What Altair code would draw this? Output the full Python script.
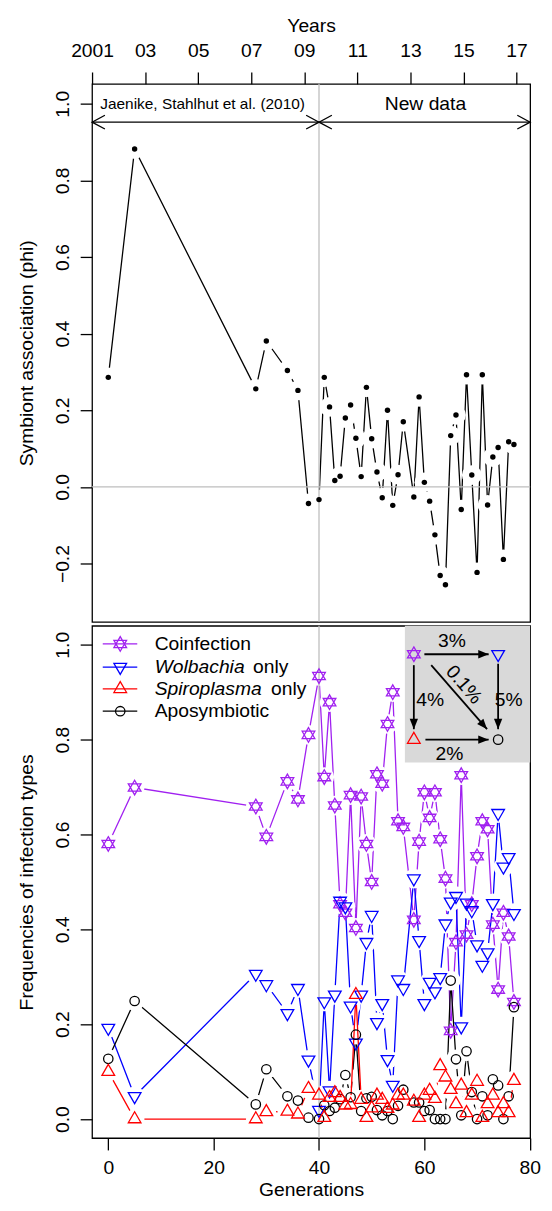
import altair as alt
import pandas as pd

# ---------------- data ----------------
gens = [0, 5, 28, 30, 34, 36, 38,
        40, 41, 42, 43, 44, 45, 46, 47, 48, 49, 50, 51, 52, 53, 54, 55, 56,
        58, 59, 60, 61, 62, 63, 64, 65, 66, 67, 68, 69, 70, 71, 72, 73, 74, 75, 76, 77]

phi = [0.286, 0.882, 0.256, 0.381, 0.304, 0.252, -0.043,
       -0.033, 0.286, 0.209, 0.017, 0.028, 0.180, 0.214, 0.127, 0.027, 0.260, 0.126, 0.039,
       -0.028, 0.200, -0.048, 0.032, 0.170,
       -0.026, 0.235, 0.012, -0.037, -0.125, -0.231, -0.255, 0.134, 0.188, -0.059, 0.293,
       0.031, -0.223, 0.293, -0.047, 0.078, 0.103, -0.189, 0.118, 0.111]

coinfection = [0.580, 0.699, 0.659, 0.595, 0.712, 0.674, 0.810,
               0.934, 0.721, 0.879, 0.661, 0.453, 0.435, 0.683, 0.403, 0.680, 0.580, 0.500, 0.727,
               0.707, 0.833, 0.900, 0.628, 0.616,
               0.420, 0.585, 0.689, 0.635, 0.689, 0.590, 0.507, 0.186, 0.373, 0.725, 0.389,
               0.453, 0.554, 0.628, 0.611, 0.410, 0.273, 0.435, 0.385, 0.247]

wolbachia = [0.192, 0.048, 0.306, 0.284, 0.223, 0.276, 0.125,
             0.019, 0.248, 0.060, 0.262, 0.460, 0.448, 0.239, 0.161, 0.262, 0.373, 0.430, 0.204,
             0.244, 0.126, 0.072, 0.294, 0.276,
             0.507, 0.377, 0.244, 0.289, 0.269, 0.299, 0.412, 0.458, 0.470, 0.195, 0.456,
             0.440, 0.368, 0.325, 0.351, 0.455, 0.645, 0.532, 0.552, 0.434]

spiroplasma = [0.100, 0.000, 0.000, 0.015, 0.016, 0.010, 0.064,
               0.050, 0.003, 0.045, 0.055, 0.045, 0.029, 0.030, 0.262, 0.041, 0.003, 0.023, 0.050,
               0.041, 0.022, 0.029, 0.050, 0.050,
               0.037, 0.003, 0.050, 0.060, 0.043, 0.112, 0.088, 0.062, 0.032, 0.071, 0.013,
               0.050, 0.079, 0.003, 0.032, 0.050, 0.013, 0.032, 0.013, 0.081]

aposymbiotic = [0.127, 0.249, 0.031, 0.105, 0.048, 0.039, 0.003,
                0.000, 0.029, 0.017, 0.024, 0.042, 0.093, 0.046, 0.178, 0.017, 0.044, 0.047, 0.019,
                0.008, 0.017, 0.000, 0.028, 0.062,
                0.035, 0.035, 0.017, 0.019, 0.000, 0.000, 0.000, 0.292, 0.126, 0.008, 0.143,
                0.057, 0.000, 0.048, 0.008, 0.084, 0.071, 0.000, 0.048, 0.236]

years = list(range(2001, 2018))
year_labels = ["2001", "", "03", "", "05", "", "07", "", "09", "", "11", "", "13", "", "15", "", "17"]

top_y_ticks = [-0.2, 0.0, 0.2, 0.4, 0.6, 0.8, 1.0]
bot_y_ticks = [0.0, 0.2, 0.4, 0.6, 0.8, 1.0]
gen_ticks = [0, 20, 40, 60, 80]

legend_names = ["Coinfection", "Wolbachia", "Spiroplasma", "Aposymbiotic"]
legend_only = ["", " only", " only", ""]

inset_gen = [58, 74, 58, 74]
inset_val = [0.98, 0.98, 0.80, 0.80]
inset_texts = ["3%", "4%", "0.1%", "5%", "2%"]

# ---------------- styling ----------------
FONT = "Liberation Sans"
FS = 19.5
X_DOM = [-3.08, 80.08]
YEAR_STEP = 5.036
W, H_TOP, H_BOT = 443, 544, 518
LW = 1.3

PURPLE, BLUE, RED, BLACK = "#A020F0", "#0000FF", "#FF0000", "#000000"
GRAY = "#BEBEBE"
INSET_BG = "#D9D9D9"

TRI_UP = "M0,-1L0.866,0.5L-0.866,0.5Z"
TRI_DN = "M0,1L0.866,-0.5L-0.866,-0.5Z"
STAR = TRI_UP + TRI_DN
VHEAD = "M-2,-1.07L0,0L-2,1.07"          # open V arrow head, tip at origin, pointing right
FHEAD = "M0,0L-2,-0.8L-2,0.8Z"           # filled arrow head, pointing right

xs = alt.Scale(domain=X_DOM, nice=False, zero=False)
ys_top = alt.Scale(domain=[-0.352, 1.052], nice=False, zero=False)
ys_bot = alt.Scale(domain=[-0.04, 1.04], nice=False, zero=False)

# ---------------- top panel ----------------
year_pos = [X_DOM[0] + (y - years[0]) * YEAR_STEP for y in years]
js_labels = "[" + ",".join("'%s'" % s for s in year_labels) + "]"

top_x_axis = alt.Axis(
    orient="top", values=year_pos,
    labelExpr=f"{js_labels}[round((datum.value - ({X_DOM[0]})) / {YEAR_STEP})]",
    title="Years", tickSize=12, labelPadding=16, labelBaseline="alphabetic",
    labelOverlap=False, labelFlush=False, domain=False, grid=False,
    titleX=W / 2, titleY=-53, titleBaseline="alphabetic", titleAlign="center")

top_y_axis = alt.Axis(
    values=top_y_ticks, format=".1f", title="Symbiont association (phi)",
    tickSize=12, labelAngle=270, labelAlign="center", labelBaseline="alphabetic",
    labelPadding=11.4, domain=False, grid=False,
    titleX=-60, titleY=H_TOP / 2, titleAngle=270, titleAlign="center",
    titleBaseline="alphabetic")

top_df = pd.DataFrame({"gen": gens, "val": phi})
tb = alt.Chart(top_df)

t_line = tb.mark_line(color=BLACK, strokeWidth=LW).encode(
    x=alt.X("gen:Q", scale=xs, axis=top_x_axis),
    y=alt.Y("val:Q", scale=ys_top, axis=top_y_axis))
t_halo = tb.mark_circle(color="white", size=400, opacity=1).encode(x="gen:Q", y="val:Q")
t_h0 = alt.Chart(pd.DataFrame({"val": [0.0]})).mark_rule(color=GRAY, strokeWidth=LW).encode(y="val:Q")
t_v40 = alt.Chart(pd.DataFrame({"gen": [40]})).mark_rule(color=GRAY, strokeWidth=LW).encode(x="gen:Q")
t_dots = tb.mark_circle(color=BLACK, size=30, opacity=1).encode(x="gen:Q", y="val:Q")

arr_df = pd.DataFrame({"gen": [X_DOM[0], 40], "gen2": [40, X_DOM[1]], "val": [0.952, 0.952]})
t_arr = alt.Chart(arr_df).mark_rule(color=BLACK, strokeWidth=LW).encode(
    x="gen:Q", x2="gen2:Q", y="val:Q")
head_df = pd.DataFrame({"gen": [X_DOM[0], 40, 40, X_DOM[1]],
                        "val": [0.952] * 4, "ang": [180, 0, 180, 0]})
t_heads = alt.Chart(head_df).mark_point(
    shape=VHEAD, filled=False, color=BLACK, strokeWidth=LW, size=169, opacity=1).encode(
    x="gen:Q", y="val:Q", angle=alt.Angle("ang:Q", scale=None))
ann_df = pd.DataFrame({"gen": [17.9], "val": [1.0], "txt": ["Jaenike, Stahlhut et al. (2010)"]})
t_ann1 = alt.Chart(ann_df).mark_text(font=FONT, fontSize=15.6, baseline="middle", align="center",
                                     color=BLACK).encode(x="gen:Q", y="val:Q", text="txt:N")
ann2_df = pd.DataFrame({"gen": [60.2], "val": [1.0], "txt": ["New data"]})
t_ann2 = alt.Chart(ann2_df).mark_text(font=FONT, fontSize=FS, baseline="middle", align="center",
                                      color=BLACK).encode(x="gen:Q", y="val:Q", text="txt:N")

top = alt.layer(t_line, t_halo, t_h0, t_v40, t_dots, t_arr, t_heads, t_ann1, t_ann2).properties(
    width=W, height=H_TOP)

# ---------------- bottom panel ----------------
bot_x_axis = alt.Axis(
    values=gen_ticks, title="Generations", tickSize=12, labelPadding=24,
    labelBaseline="alphabetic", labelFlush=False, domain=False, grid=False,
    titleX=W / 2, titleY=58, titleBaseline="alphabetic", titleAlign="center")
bot_y_axis = alt.Axis(
    values=bot_y_ticks, format=".1f", title="Frequencies of infection types",
    tickSize=12, labelAngle=270, labelAlign="center", labelBaseline="alphabetic",
    labelPadding=11.4, domain=False, grid=False,
    titleX=-60, titleY=H_BOT / 2, titleAngle=270, titleAlign="center",
    titleBaseline="alphabetic")

series = [
    ("Coinfection", coinfection, PURPLE, STAR, 219),
    ("Wolbachia", wolbachia, BLUE, TRI_DN, 219),
    ("Aposymbiotic", aposymbiotic, BLACK, "circle", 90),
    ("Spiroplasma", spiroplasma, RED, TRI_UP, 219),
]

b_layers = []
sym_layers = []
for i, (name, vals, col, shp, sz) in enumerate(series):
    df = pd.DataFrame({"gen": gens, "val": vals})
    base = alt.Chart(df)
    if i == 0:
        ln = base.mark_line(color=col, strokeWidth=LW).encode(
            x=alt.X("gen:Q", scale=xs, axis=bot_x_axis),
            y=alt.Y("val:Q", scale=ys_bot, axis=bot_y_axis))
    else:
        ln = base.mark_line(color=col, strokeWidth=LW).encode(x="gen:Q", y="val:Q")
    halo = base.mark_circle(color="white", size=400, opacity=1).encode(x="gen:Q", y="val:Q")
    b_layers += [ln, halo]
    sym_layers.append(base.mark_point(shape=shp, size=sz, filled=False, color=col,
                                      strokeWidth=LW, opacity=1).encode(x="gen:Q", y="val:Q"))

b_v40 = alt.Chart(pd.DataFrame({"gen": [40]})).mark_rule(color=GRAY, strokeWidth=LW).encode(x="gen:Q")

# legend (no box)
leg_cols = [PURPLE, BLUE, RED, BLACK]
leg_shapes = [STAR, TRI_DN, TRI_UP, "circle"]
leg_sizes = [219, 219, 219, 90]
leg_y = [1.0017, 0.953, 0.907, 0.860]
leg_df = pd.DataFrame({"gen": [-1.05] * 4, "gen2": [5.5] * 4, "gsym": [2.27] * 4,
                       "val": leg_y, "col": leg_cols, "shp": leg_shapes, "sz": leg_sizes,
                       "name": legend_names, "only": legend_only,
                       "gtxt": [8.8] * 4, "gonly": [8.8, 27.46, 30.9, 8.8],
                       "ital": [False, True, True, False]})
lg = alt.Chart(leg_df)
leg_lines = lg.mark_rule(strokeWidth=LW).encode(
    x="gen:Q", x2="gen2:Q", y="val:Q", color=alt.Color("col:N", scale=None))
leg_syms = lg.mark_point(filled=False, strokeWidth=LW, opacity=1).encode(
    x=alt.X("gsym:Q"), y="val:Q", color=alt.Color("col:N", scale=None),
    shape=alt.Shape("shp:N", scale=None), size=alt.Size("sz:Q", scale=None))
leg_txt_norm = lg.transform_filter("!datum.ital").mark_text(
    font=FONT, fontSize=FS, align="left", baseline="middle", color=BLACK).encode(
    x=alt.X("gtxt:Q"), y="val:Q", text="name:N")
leg_txt_ital = lg.transform_filter("datum.ital").mark_text(
    font=FONT, fontSize=FS, fontStyle="italic", align="left", baseline="middle", color=BLACK).encode(
    x=alt.X("gtxt:Q"), y="val:Q", text="name:N")
leg_txt_only = lg.transform_filter("datum.ital").mark_text(
    font=FONT, fontSize=FS, align="left", baseline="middle", color=BLACK).encode(
    x=alt.X("gonly:Q"), y="val:Q", text="only:N")

# inset transition diagram
inset_bg = alt.Chart(pd.DataFrame({"gen": [56.3], "gen2": [X_DOM[1]], "val": [0.752], "val2": [1.04]})
                     ).mark_rect(color=INSET_BG, opacity=1).encode(
    x="gen:Q", x2="gen2:Q", y="val:Q", y2="val2:Q")
ins_df = pd.DataFrame({"gen": inset_gen, "val": inset_val,
                       "col": [PURPLE, BLUE, RED, BLACK],
                       "shp": [STAR, TRI_DN, TRI_UP, "circle"], "sz": [219, 219, 219, 90]})
ins_syms = alt.Chart(ins_df).mark_point(filled=False, strokeWidth=LW, opacity=1).encode(
    x="gen:Q", y="val:Q", color=alt.Color("col:N", scale=None),
    shape=alt.Shape("shp:N", scale=None), size=alt.Size("sz:Q", scale=None))
ins_arr_df = pd.DataFrame({
    "gen": [60.0, 58.0, 61.3, 74.0, 60.2],
    "gen2": [72.2, 58.0, 71.9, 74.0, 72.2],
    "val": [0.98, 0.957, 0.957, 0.960, 0.80],
    "val2": [0.98, 0.822, 0.822, 0.822, 0.80],
    "ang": [0, 90, 49, 90, 0]})
ia = alt.Chart(ins_arr_df)
ins_lines = ia.mark_rule(color=BLACK, strokeWidth=1.8).encode(
    x="gen:Q", x2="gen2:Q", y="val:Q", y2="val2:Q")
ins_heads = ia.mark_point(shape=FHEAD, filled=True, color=BLACK, size=110, opacity=1).encode(
    x=alt.X("gen2:Q"), y=alt.Y("val2:Q"), angle=alt.Angle("ang:Q", scale=None))
ins_txt_df = pd.DataFrame({"gen": [65.25, 61.1, 67.5, 76.0, 64.75],
                           "val": [1.008, 0.884, 0.916, 0.884, 0.770],
                           "txt": inset_texts, "ang": [0, 0, 49, 0, 0]})
ins_txt = alt.Chart(ins_txt_df).mark_text(font=FONT, fontSize=FS, align="center", baseline="middle",
                                          color=BLACK).encode(
    x="gen:Q", y="val:Q", text="txt:N", angle=alt.Angle("ang:Q", scale=None))

bottom = alt.layer(*b_layers, b_v40, *sym_layers,
                   leg_lines, leg_syms, leg_txt_norm, leg_txt_ital, leg_txt_only,
                   inset_bg, ins_lines, ins_heads, ins_syms, ins_txt).properties(
    width=W, height=H_BOT)

chart = alt.vconcat(top, bottom, spacing=0).configure_view(
    stroke=BLACK, strokeWidth=LW).configure_axis(
    labelFont=FONT, titleFont=FONT, labelFontSize=FS, titleFontSize=FS,
    labelColor=BLACK, titleColor=BLACK, tickColor=BLACK, tickWidth=LW,
    titleFontWeight="normal").properties(
    padding={"left": 8, "top": 0, "right": 2, "bottom": 0}, background="white")

chart.save("out.html", embed_options={"renderer": "svg", "actions": False})
